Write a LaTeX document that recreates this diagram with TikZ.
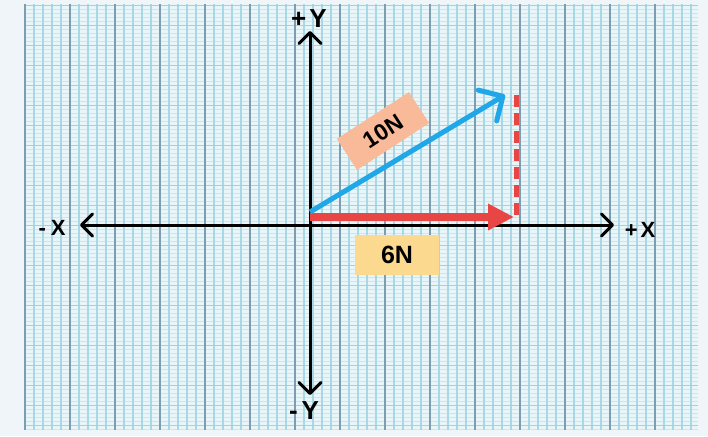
\documentclass[tikz,border=0pt]{standalone}
\usepackage{fontspec}
\setmainfont{Liberation Sans}
\usetikzlibrary{arrows.meta}
\definecolor{bgout}{HTML}{F0F5FA}
\definecolor{gridbg}{HTML}{E8F6FA}
\definecolor{minorv}{HTML}{A8D8E6}
\definecolor{minorh}{HTML}{C8E7EF}
\definecolor{majorl}{HTML}{7C9DB2}
\definecolor{vblue}{HTML}{1FA7E8}
\definecolor{vred}{HTML}{E84545}
\definecolor{peach}{HTML}{F8BA98}
\definecolor{ylw}{HTML}{FBD98E}
\tikzset{
  axbarb/.tip={Straight Barb[length=11pt,width=22pt,line width=3pt,round]},
  axis/.style={line width=3pt, black},
  xlbl/.style={font=\bfseries\fontsize{22}{22}\selectfont, inner sep=0pt},
  ylbl/.style={font=\bfseries\fontsize{26}{26}\selectfont, inner sep=0pt},
  forcebox/.style={inner sep=0pt, font=\bfseries\fontsize{23}{23}\selectfont}
}
\begin{document}
\begin{tikzpicture}[x=1pt,y=-1pt]
\useasboundingbox (0,0) rectangle (708,436);
\fill[bgout] (0,0) rectangle (708,436);
\fill[gridbg] (25,4) rectangle (698,430);
\foreach \y in {5,9,...,429} \draw[minorh, line width=0.7pt] (25,\y) -- (698,\y);
\foreach \x in {25,34,...,698} \draw[minorv, line width=1.2pt] (\x,4) -- (\x,430);
\foreach \y in {5,25,...,429} \draw[majorl!55, line width=0.9pt] (25,\y) -- (698,\y);
\foreach \x in {25,70,...,698} \draw[majorl, line width=1.6pt] (\x,4) -- (\x,430);

% axes
\coordinate (xl) at (80,225);
\coordinate (xr) at (614,225);
\coordinate (yt) at (310,31);
\coordinate (yb) at (310,395);
\draw[axis, axbarb-axbarb] (xl) -- (xr);
\draw[axis, axbarb-axbarb] (yb) -- (yt);

% axis labels
\node[xlbl] (xminus) at (52,228) {-\hspace{5pt}X};
\node[xlbl] (xplus) at (640,230) {+\hspace{3pt}X};
\node[ylbl] (yplus) at (309,19) {+\hspace{3pt}Y};
\node[ylbl] (yminus) at (304,411) {-\hspace{4pt}Y};

% red component
\coordinate (rs) at (310,217);
\coordinate (re) at (514,217);
\coordinate (dt) at (516,95);
\coordinate (db) at (516,218);
\draw[vred, line width=5pt, dash pattern=on 12pt off 6pt] (dt) -- (db);
\draw[vred, line width=8pt, -{Triangle[length=26pt,width=25pt]}] (rs) -- (re);

% blue resultant
\coordinate (bs) at (310,212);
\coordinate (be) at (505,95);
\draw[vblue, line width=5pt, -{Straight Barb[length=18pt,width=36pt,line width=5pt,round]}] (bs) -- (be);

% labels
\node[forcebox, fill=peach, minimum width=86pt, minimum height=37pt, rotate=33] (f10) at (383,131) {10N};
\node[forcebox, fill=ylw, minimum width=84pt, minimum height=40pt, font=\bfseries\fontsize{25}{25}\selectfont] (f6) at (397,255) {6N};
\end{tikzpicture}
\end{document}
